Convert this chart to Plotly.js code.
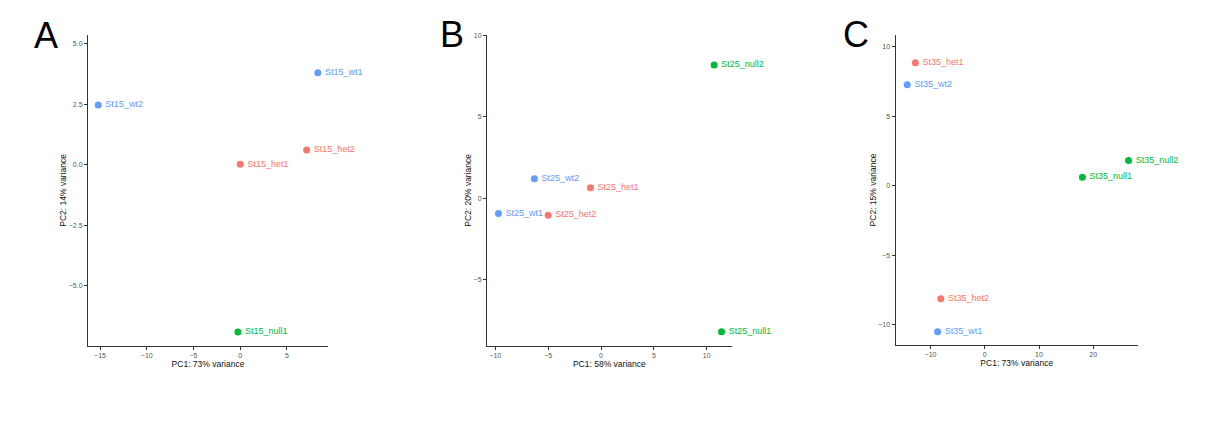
<!DOCTYPE html>
<html>
<head>
<meta charset="utf-8">
<script src="https://cdn.plot.ly/plotly-3.0.1.min.js"></script>
<style>html,body{margin:0;padding:0;background:#fff;}#chart{width:1229px;height:435px;}</style>
</head>
<body>
<div id="chart"></div>
<script>
// Panel A (St15)
const aLabels = ["St15_wt1", "St15_wt2", "St15_het2", "St15_het1", "St15_null1"];
const aGroups = ["wt", "wt", "het", "het", "null"];
const aPC1 = [8.3, -15.2, 7.1, 0.0, -0.25];
const aPC2 = [3.81, 2.47, 0.61, 0.02, -6.91];

// Panel B (St25)
const bLabels = ["St25_null2", "St25_wt2", "St25_het1", "St25_wt1", "St25_het2", "St25_null1"];
const bGroups = ["null", "wt", "het", "wt", "het", "null"];
const bPC1 = [10.7, -6.3, -1.0, -9.7, -5.0, 11.4];
const bPC2 = [8.19, 1.20, 0.65, -0.92, -1.03, -8.19];

// Panel C (St35)
const cLabels = ["St35_het1", "St35_wt2", "St35_null2", "St35_null1", "St35_het2", "St35_wt1"];
const cGroups = ["het", "wt", "null", "null", "het", "wt"];
const cPC1 = [-12.8, -14.3, 26.5, 18.0, -8.1, -8.7];
const cPC2 = [8.84, 7.26, 1.82, 0.62, -8.12, -10.49];

const panelTitles = ["A", "B", "C"];
const xTitles = ["PC1: 73% variance", "PC1: 58% variance", "PC1: 73% variance"];
const yTitles = ["PC2: 14% variance", "PC2: 20% variance", "PC2: 15% variance"];

const groupColors = {het: "#F8766D", null: "#00BA38", wt: "#619CFF"};
const FONT = "Liberation Sans, Arial, Helvetica, sans-serif";

function makeTrace(x, y, labels, groups, ax) {
  const cols = groups.map(g => groupColors[g]);
  return {
    type: "scatter", mode: "markers+text",
    x: x, y: y, text: labels.map(t => "\u2009" + t),
    textposition: "middle right",
    textfont: {family: FONT, size: 9, color: cols},
    marker: {size: 7, color: cols},
    cliponaxis: false,
    xaxis: "x" + ax, yaxis: "y" + ax,
    hoverinfo: "text", showlegend: false
  };
}

const W = 1229, H = 435;
function axisBase() {
  return {
    showgrid: false, zeroline: false, showline: true,
    linecolor: "#333", linewidth: 1,
    ticks: "outside", ticklen: 3, tickcolor: "#333", tickwidth: 1,
    tickfont: {family: FONT, size: 7, color: "#555"},
    automargin: false
  };
}

const data = [
  makeTrace(aPC1, aPC2, aLabels, aGroups, ""),
  makeTrace(bPC1, bPC2, bLabels, bGroups, "2"),
  makeTrace(cPC1, cPC2, cLabels, cGroups, "3")
];

const yDom = [(H - 345.7) / H, (H - 35) / H];
const titleFont = {family: FONT, size: 8.5, color: "#111"};

const layout = {
  width: W, height: H,
  margin: {l: 0, r: 0, t: 0, b: 0},
  paper_bgcolor: "#fff", plot_bgcolor: "#fff",
  font: {family: FONT},
  xaxis: Object.assign(axisBase(), {domain: [88 / W, 328 / W], range: [-16.29, 9.39], dtick: 5, anchor: "y",
    title: {text: xTitles[0], font: titleFont, standoff: 1}}),
  yaxis: Object.assign(axisBase(), {domain: yDom, range: [-7.48, 5.37], dtick: 2.5, tickformat: ".1f", anchor: "x",
    title: {text: yTitles[0], font: titleFont, standoff: 0}}),
  xaxis2: Object.assign(axisBase(), {domain: [487 / W, 731.7 / W], range: [-10.78, 12.36], dtick: 5, anchor: "y2",
    title: {text: xTitles[1], font: titleFont, standoff: 1}}),
  yaxis2: Object.assign(axisBase(), {domain: yDom, range: [-9.04, 10.03], dtick: 5, anchor: "x2",
    title: {text: yTitles[1], font: titleFont, standoff: 0}}),
  xaxis3: Object.assign(axisBase(), {domain: [895.5 / W, 1138 / W], range: [-16.46, 28.25], dtick: 10, anchor: "y3",
    title: {text: xTitles[2], font: titleFont, standoff: 1}}),
  yaxis3: Object.assign(axisBase(), {domain: [(H - 345) / H, (H - 35) / H], range: [-11.44, 10.84], dtick: 5, anchor: "x3",
    title: {text: yTitles[2], font: titleFont, standoff: 0}}),
  annotations: [
    {text: panelTitles[0], x: 32 / W, y: 1 - 13 / H},
    {text: panelTitles[1], x: 438 / W, y: 1 - 12 / H},
    {text: panelTitles[2], x: 841 / W, y: 1 - 12 / H}
  ].map(a => Object.assign(a, {xref: "paper", yref: "paper", xanchor: "left", yanchor: "top",
    showarrow: false, font: {family: FONT, size: 36, color: "#000"}}))
};

Plotly.newPlot("chart", data, layout, {displayModeBar: false, staticPlot: true});
</script>
</body>
</html>
